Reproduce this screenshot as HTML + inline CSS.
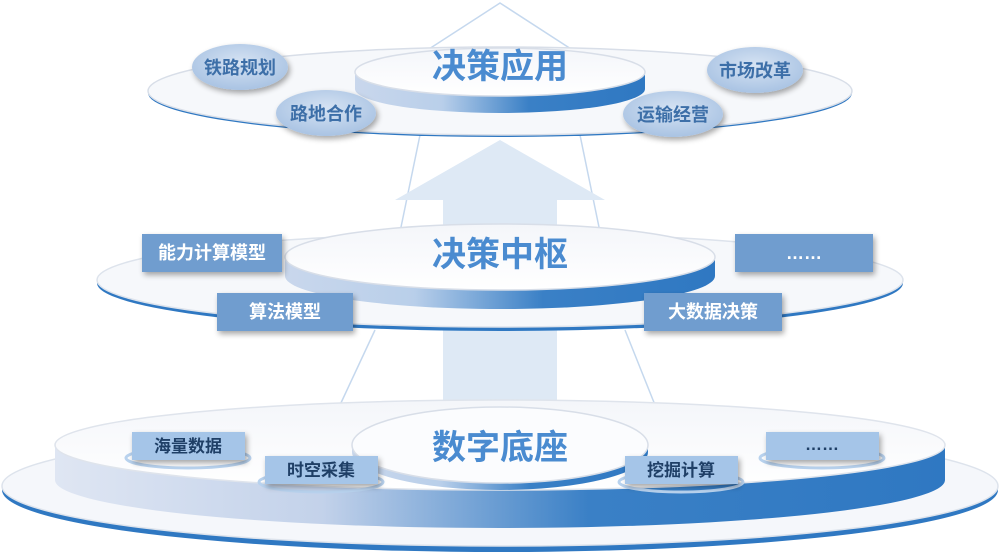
<!DOCTYPE html>
<html><head><meta charset="utf-8"><style>
html,body{margin:0;padding:0;background:#fff;}
svg{display:block}
text{font-family:"Liberation Sans","Noto Sans CJK SC",sans-serif;font-weight:bold;}
</style></head><body>
<svg width="1000" height="560" viewBox="0 0 1000 560" xmlns="http://www.w3.org/2000/svg">
<defs>
<linearGradient id="side" x1="0" x2="1" y1="0" y2="0">
<stop offset="0" stop-color="#c9d7ec"/><stop offset="0.3" stop-color="#b9cfea"/><stop offset="0.6" stop-color="#3a80c6"/><stop offset="1" stop-color="#2f78c2"/>
</linearGradient>
<linearGradient id="sideB" x1="0" x2="1" y1="0" y2="0">
<stop offset="0" stop-color="#dfe6f3"/><stop offset="0.3" stop-color="#c3d2ea"/><stop offset="0.6" stop-color="#3a80c6"/><stop offset="1" stop-color="#2f78c2"/>
</linearGradient>
<linearGradient id="top" x1="0" x2="0" y1="0" y2="1">
<stop offset="0" stop-color="#f4f6fa"/><stop offset="1" stop-color="#ffffff"/>
</linearGradient>
<radialGradient id="bub" cx="0.5" cy="0.4" r="0.6">
<stop offset="0" stop-color="#d6e3f3"/><stop offset="1" stop-color="#a9c3e3"/>
</radialGradient>
<filter id="sh" x="-20%" y="-20%" width="140%" height="160%"><feGaussianBlur in="SourceAlpha" stdDeviation="3"/><feOffset dx="2" dy="3"/><feComponentTransfer><feFuncA type="linear" slope="0.35"/></feComponentTransfer><feMerge><feMergeNode/><feMergeNode in="SourceGraphic"/></feMerge></filter>
</defs>

<!-- background arrow lines -->
<g stroke="#c5d8ee" stroke-width="1.5" fill="none">
<polyline points="412,60 500,3 588,60"/>
<line x1="420" y1="135" x2="400" y2="232"/><line x1="580" y1="135" x2="600" y2="232"/>
<line x1="375" y1="330" x2="340" y2="405"/><line x1="625" y1="330" x2="655" y2="405"/>
</g>
<polygon points="500,140 605,200 557,200 557,405 443,405 443,200 395,200" fill="#dee9f5"/>

<!-- BOTTOM LAYER -->
<ellipse cx="500" cy="490" rx="498" ry="62" fill="#2f78c2"/>
<ellipse cx="500" cy="486" rx="498" ry="60" fill="#f5f7fb" stroke="#dde3ec" stroke-width="1.5"/>
<path d="M55,445 L55,480 A445,48 0 0 0 945,480 L945,445 Z" fill="url(#sideB)"/>
<ellipse cx="500" cy="445" rx="445" ry="45" fill="url(#top)" stroke="#dfe4ec" stroke-width="1.5"/>
<path d="M352,445 L352,452 A148,38 0 0 0 648,452 L648,445 Z" fill="url(#side)"/>
<ellipse cx="500" cy="445" rx="148" ry="38" fill="#fbfcfe" stroke="#d8dee8" stroke-width="1.5"/>
<text x="500" y="459" font-size="34" fill="#4a8bd0" text-anchor="middle">数字底座</text>
<g stroke="#b8d2ee" stroke-width="3" fill="none">
<ellipse cx="188" cy="458" rx="62" ry="10"/><ellipse cx="321" cy="482" rx="62" ry="10"/>
<ellipse cx="681" cy="482" rx="62" ry="10"/><ellipse cx="822" cy="458" rx="62" ry="10"/>
</g>
<g fill="#a5c5e8" filter="url(#sh)">
<rect x="132" y="432" width="113" height="28"/><rect x="265" y="456" width="113" height="28"/>
<rect x="625" y="456" width="113" height="28"/><rect x="766" y="432" width="113" height="28"/>
</g>
<g font-size="17" fill="#1f3f66" text-anchor="middle">
<text x="188" y="452">海量数据</text><text x="321" y="476">时空采集</text>
<text x="681" y="476">挖掘计算</text><text x="822" y="450">……</text>
</g>

<!-- MIDDLE LAYER -->
<ellipse cx="500" cy="283" rx="403" ry="48" fill="#2f78c2"/>
<ellipse cx="500" cy="280" rx="403" ry="47" fill="#f6f8fb" stroke="#dde3ec" stroke-width="1.5"/>
<path d="M285,257 L285,276 A215,33 0 0 0 715,276 L715,257 Z" fill="url(#side)"/>
<ellipse cx="500" cy="257" rx="215" ry="33" fill="url(#top)" stroke="#d8dee8" stroke-width="1.5"/>
<text x="500" y="266" font-size="34" fill="#4a8bd0" text-anchor="middle">决策中枢</text>
<g fill="#6f9dcf" filter="url(#sh)">
<rect x="142" y="234" width="140" height="38"/><rect x="217" y="293" width="136" height="38"/>
<rect x="735" y="234" width="138" height="38"/><rect x="644" y="293" width="138" height="38"/>
</g>
<g font-size="18" fill="#fff" text-anchor="middle">
<text x="212" y="259">能力计算模型</text><text x="285" y="318">算法模型</text>
<text x="804" y="259">……</text><text x="713" y="318">大数据决策</text>
</g>

<!-- TOP LAYER -->
<ellipse cx="500" cy="93" rx="352" ry="44" fill="#2f78c2"/>
<ellipse cx="500" cy="91" rx="352" ry="44" fill="#f6f8fb" stroke="#d8dee8" stroke-width="1.5"/>
<path d="M355,72 L355,89 A145,24 0 0 0 645,89 L645,72 Z" fill="url(#side)"/>
<ellipse cx="500" cy="72" rx="145" ry="24" fill="url(#top)" stroke="#d8dee8" stroke-width="1.5"/>
<text x="500" y="78" font-size="34" fill="#4a8bd0" text-anchor="middle">决策应用</text>
<g fill="url(#bub)" filter="url(#sh)">
<ellipse cx="240" cy="67" rx="48" ry="23"/><ellipse cx="326" cy="113" rx="50" ry="23"/>
<ellipse cx="755" cy="70" rx="48" ry="23"/><ellipse cx="673" cy="114" rx="50" ry="23"/>
</g>
<g font-size="18" fill="#3d6fa8" text-anchor="middle">
<text x="240" y="74">铁路规划</text><text x="326" y="120">路地合作</text>
<text x="755" y="77">市场改革</text><text x="673" y="121">运输经营</text>
</g>
</svg>
</body></html>
